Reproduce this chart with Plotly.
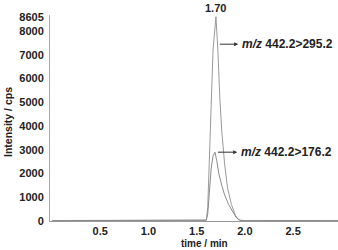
import plotly.graph_objects as go

# Chromatogram data (time in min, intensity in cps)
t_295 = [0.0, 0.5, 1.0, 1.5, 1.58, 1.60, 1.615, 1.63, 1.65, 1.67, 1.70, 1.72, 1.74, 1.76, 1.79, 1.82, 1.86, 1.90, 1.93, 1.96, 2.0, 2.5, 2.97]
i_295 = [20, 25, 20, 25, 25, 40, 600, 2600, 5000, 7200, 8605, 7200, 5200, 3800, 2400, 1400, 700, 250, 60, 25, 20, 25, 20]

t_176 = [0.0, 0.5, 1.0, 1.5, 1.58, 1.60, 1.615, 1.63, 1.65, 1.67, 1.69, 1.71, 1.73, 1.76, 1.79, 1.83, 1.87, 1.91, 1.95, 2.0, 2.5, 2.97]
i_176 = [15, 20, 15, 20, 20, 30, 300, 1200, 2200, 2750, 2900, 2500, 2000, 1500, 1100, 700, 400, 150, 30, 15, 20, 15]

x_ticks = [0.5, 1.0, 1.5, 2.0, 2.5]
y_ticks = [0, 1000, 2000, 3000, 4000, 5000, 6000, 7000, 8000, 8605]
y_ticklabels = ["0", "1000", "2000", "3000", "4000", "5000", "6000", "7000", "8000", "8605"]

peak_time = 1.70
peak_label = "1.70"
label_295 = "<i>m/z</i> 442.2>295.2"
label_176 = "<i>m/z</i> 442.2>176.2"

fig = go.Figure()
fig.add_trace(go.Scatter(x=t_295, y=i_295, mode="lines",
                         line=dict(color="#9a9a9a", width=1), showlegend=False))
fig.add_trace(go.Scatter(x=t_176, y=i_176, mode="lines",
                         line=dict(color="#8a8a8a", width=1), showlegend=False))

font_b = "Liberation Sans"
fig.update_layout(
    width=338, height=250,
    margin=dict(l=50, r=0, t=15, b=29),
    paper_bgcolor="white", plot_bgcolor="white",
    font=dict(family=font_b, color="#222", size=11),
    xaxis=dict(range=[-0.02, 2.965], tickvals=x_ticks,
               ticktext=["<b>%.1f</b>" % v for v in x_ticks],
               showgrid=False, zeroline=False, showline=True,
               linecolor="#999", linewidth=1, ticks="", ticklen=0),
    yaxis=dict(range=[0, 8680], tickvals=y_ticks,
               ticktext=["<b>%s</b>" % s for s in y_ticklabels],
               showgrid=False, zeroline=False, showline=True,
               linecolor="#aaa", linewidth=1, ticks="", ticklabelstandoff=3),
)

ann = []
ann.append(dict(x=peak_time, y=8605, text="<b>%s</b>" % peak_label, showarrow=False,
                yanchor="bottom", yshift=1, font=dict(size=11)))
# arrows
ann.append(dict(x=1.93, y=7450, ax=1.725, ay=7450, axref="x", ayref="y", text="",
                showarrow=True, arrowhead=2, arrowsize=0.8, arrowwidth=1, arrowcolor="#333"))
ann.append(dict(x=1.95, y=7450, text="<b>%s</b>" % label_295, showarrow=False,
                xanchor="left", font=dict(size=12)))
ann.append(dict(x=1.92, y=2900, ax=1.705, ay=2900, axref="x", ayref="y", text="",
                showarrow=True, arrowhead=2, arrowsize=0.8, arrowwidth=1, arrowcolor="#333"))
ann.append(dict(x=1.94, y=2900, text="<b>%s</b>" % label_176, showarrow=False,
                xanchor="left", font=dict(size=12)))
# axis titles
ann.append(dict(xref="paper", yref="paper", x=(204 - 50) / 288, y=-(243 - 221) / 206,
                xanchor="center", yanchor="middle",
                text="<b>time / min</b>", showarrow=False, font=dict(size=10)))
ann.append(dict(xref="paper", yref="paper", x=-(50 - 8) / 288, y=(221 - 122) / 206,
                xanchor="center", yanchor="middle",
                text="<b>Intensity / cps</b>", showarrow=False, textangle=-90,
                font=dict(size=10.5)))
fig.update_layout(annotations=ann)

fig.write_html("out.html")
